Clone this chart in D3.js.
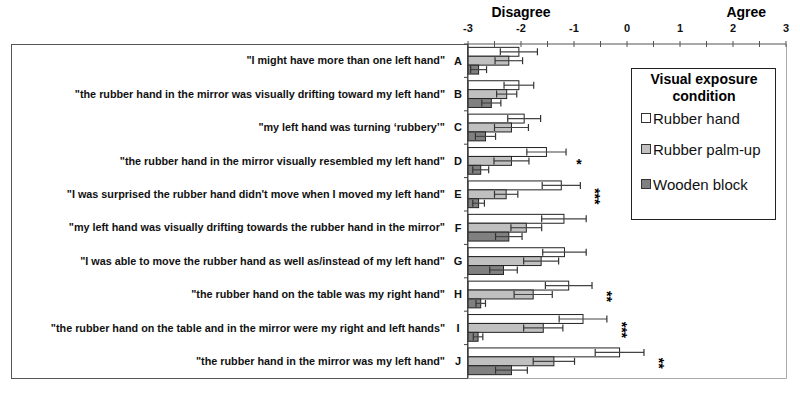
<!DOCTYPE html>
<html><head><meta charset="utf-8">
<script src="https://cdn.jsdelivr.net/npm/d3@7"></script>
<style>body{margin:0;background:#fff;}svg{display:block;}</style>
</head><body>
<script>
const letters = ["A","B","C","D","E","F","G","H","I","J"];
const statements = [
 "\"I might have more than one left hand\"",
 "\"the rubber hand in the mirror was visually drifting toward my left hand\"",
 "\"my left hand was turning \u2018rubbery\u2019\"",
 "\"the rubber hand in the mirror visually resembled my left hand\"",
 "\"I was surprised the rubber hand didn't move when I moved my left hand\"",
 "\"my left hand was visually drifting towards the rubber hand in the mirror\"",
 "\"I was able to move the rubber hand as well as/instead of my left hand\"",
 "\"the rubber hand on the table was my right hand\"",
 "\"the rubber hand on the table and in the mirror were my right and left hands\"",
 "\"the rubber hand in the mirror was my left hand\""
];
const seriesNames = ["Rubber hand","Rubber palm-up","Wooden block"];
const rubberHand   = [-2.04,-2.04,-1.94,-1.52,-1.24,-1.19,-1.18,-1.10,-0.83,-0.14];
const rubberHandErr= [0.35,0.28,0.31,0.37,0.36,0.42,0.41,0.44,0.45,0.46];
const palmUp       = [-2.23,-2.27,-2.18,-2.18,-2.28,-1.90,-1.62,-1.77,-1.58,-1.38];
const palmUpErr    = [0.26,0.19,0.32,0.33,0.22,0.29,0.33,0.36,0.37,0.39];
const wooden       = [-2.80,-2.56,-2.67,-2.76,-2.80,-2.23,-2.33,-2.76,-2.81,-2.18];
const woodenErr    = [0.15,0.18,0.19,0.15,0.11,0.25,0.26,0.09,0.09,0.30];
const significance = ["","","","*","***","","","**","***","**"];
const tickValues = [-3,-2,-1,0,1,2,3];
const colors = ["#ffffff","#c0c0c0","#808080"];

const W=800,H=407;
const svg=d3.select("body").append("svg").attr("width",W).attr("height",H);
const FONT="Liberation Sans, Arial, sans-serif";

const x=d3.scaleLinear().domain([-3,3]).range([468,786]);
const y=d3.scaleBand().domain(letters).range([44,378]);
const step=y.step();
const inner=d3.scaleBand().domain([0,1,2]).range([step*0.1, step*0.9]);

// left label box
svg.append("rect").attr("x",11.5).attr("y",44.5).attr("width",456).attr("height",334)
  .attr("fill","none").attr("stroke","#555").attr("stroke-width",1);

// plot frame (right and bottom)
svg.append("path").attr("d",`M${x(-3)},${378.5}H${x(3)+0.5}V44`).attr("fill","none").attr("stroke","#aaa");

// series data
const series=[
  {vals:rubberHand,errs:rubberHandErr},
  {vals:palmUp,errs:palmUpErr},
  {vals:wooden,errs:woodenErr}
];
series.forEach((s,si)=>{
  const g=svg.append("g");
  letters.forEach((L,i)=>{
    const y0=y(L)+inner(si), h=inner.bandwidth();
    g.append("rect").attr("x",x(-3)).attr("y",y0).attr("width",x(s.vals[i])-x(-3)).attr("height",h)
      .attr("fill",colors[si]).attr("stroke","#222").attr("stroke-width",1);
    const cy=y0+h/2, lo=x(s.vals[i]-s.errs[i]), hi=x(s.vals[i]+s.errs[i]);
    g.append("line").attr("x1",lo).attr("x2",hi).attr("y1",cy).attr("y2",cy).attr("stroke","#444").attr("stroke-width",1.2);
    [lo,hi].forEach(xx=>g.append("line").attr("x1",xx).attr("x2",xx).attr("y1",cy-3.5).attr("y2",cy+3.5).attr("stroke","#333").attr("stroke-width",1.2));
  });
});

// significance stars
letters.forEach((L,i)=>{
  if(!significance[i]) return;
  const sx=x(rubberHand[i]+rubberHandErr[i])+13, sy=y(L)+step/2;
  const t=svg.append("text").attr("font-family",FONT).attr("font-size",14).attr("font-weight","bold")
    .attr("fill","#000").attr("text-anchor","middle").attr("dominant-baseline","central").text(significance[i]);
  if(significance[i].length>1) t.attr("transform",`translate(${sx+2},${sy+2}) rotate(90)`);
  else t.attr("x",sx).attr("y",sy+3);
});

// top axis
const ax=svg.append("g").attr("transform","translate(0,44)");
ax.append("line").attr("x1",x(-3)).attr("x2",x(3)).attr("stroke","#555");
d3.range(-3,3.01,0.5).forEach(v=>{
  ax.append("line").attr("x1",x(v)).attr("x2",x(v)).attr("y1",-3).attr("y2",3).attr("stroke","#555");
});
tickValues.forEach(v=>{
  ax.append("text").attr("x",x(v)).attr("y",-12).attr("text-anchor","middle").attr("font-family",FONT)
    .attr("font-weight","bold").attr("font-size",11).attr("fill","#111").text(v);
});
svg.append("text").attr("x",x(-2)).attr("y",17).attr("text-anchor","middle").attr("font-family",FONT)
  .attr("font-weight","bold").attr("font-size",14).text("Disagree");
svg.append("text").attr("x",x(2.25)).attr("y",17).attr("text-anchor","middle").attr("font-family",FONT)
  .attr("font-weight","bold").attr("font-size",14).text("Agree");

// left axis
svg.append("line").attr("x1",x(-3)).attr("x2",x(-3)).attr("y1",44).attr("y2",378).attr("stroke","#444");
letters.forEach((L,i)=>{
  const yy=y(L);
  svg.append("line").attr("x1",x(-3)-4).attr("x2",x(-3)).attr("y1",yy).attr("y2",yy).attr("stroke","#444");
});
// category labels
letters.forEach((L,i)=>{
  const cy=y(L)+step/2;
  svg.append("text").attr("x",445).attr("y",cy).attr("dy","0.35em").attr("text-anchor","end")
    .attr("font-family",FONT).attr("font-weight","bold").attr("font-size",10.8).attr("fill","#111").text(statements[i]);
  svg.append("text").attr("x",458).attr("y",cy).attr("dy","0.35em").attr("text-anchor","middle")
    .attr("font-family",FONT).attr("font-weight","bold").attr("font-size",11).attr("fill","#111").text(L);
});

// legend
const lg=svg.append("g");
lg.append("rect").attr("x",631.5).attr("y",68.5).attr("width",144).attr("height",151).attr("fill","#fff").attr("stroke","#222");
lg.append("text").attr("x",704).attr("y",84).attr("text-anchor","middle").attr("font-family",FONT).attr("font-weight","bold").attr("font-size",14).text("Visual exposure");
lg.append("text").attr("x",704).attr("y",101).attr("text-anchor","middle").attr("font-family",FONT).attr("font-weight","bold").attr("font-size",14).text("condition");
seriesNames.forEach((n,i)=>{
  const by=[124,155,190][i];
  lg.append("rect").attr("x",641.5).attr("y",by-10.5).attr("width",9).attr("height",9).attr("fill",colors[i]).attr("stroke","#333");
  lg.append("text").attr("x",653).attr("y",by).attr("font-family",FONT).attr("font-size",15).attr("fill","#111").text(n);
});
</script>
</body></html>
